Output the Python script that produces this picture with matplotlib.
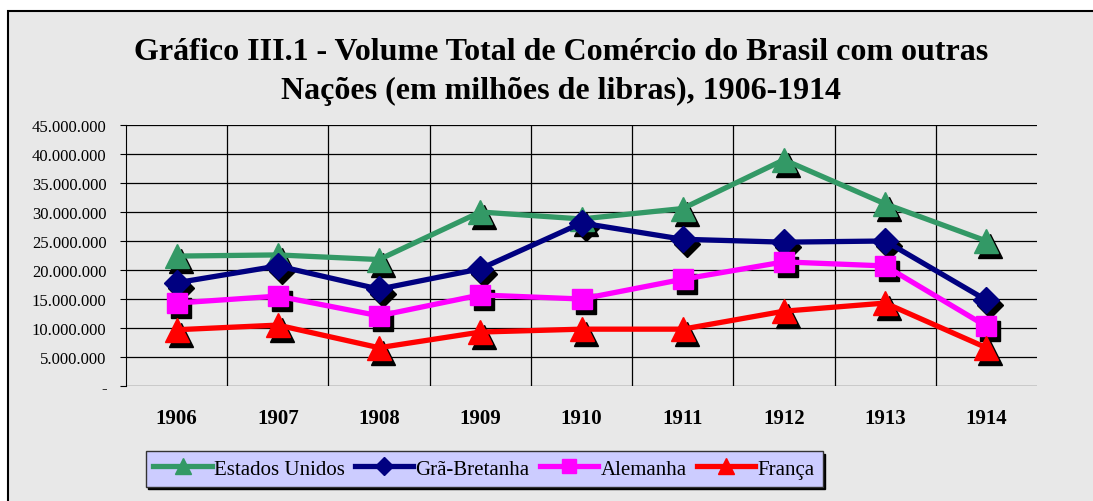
import matplotlib.pyplot as plt
from matplotlib.transforms import offset_copy
from matplotlib.patches import Rectangle

# Data (values in libras)
years = ["1906", "1907", "1908", "1909", "1910", "1911", "1912", "1913", "1914"]
estados_unidos = [22.4e6, 22.6e6, 21.8e6, 30.0e6, 28.8e6, 30.6e6, 39.0e6, 31.4e6, 25.0e6]
gra_bretanha = [17.8e6, 20.7e6, 16.7e6, 20.2e6, 28.1e6, 25.3e6, 24.8e6, 25.0e6, 14.8e6]
alemanha = [14.3e6, 15.5e6, 12.1e6, 15.7e6, 15.0e6, 18.4e6, 21.4e6, 20.7e6, 10.3e6]
franca = [9.7e6, 10.5e6, 6.6e6, 9.3e6, 9.8e6, 9.8e6, 12.9e6, 14.3e6, 6.6e6]

series = [
    ("Estados Unidos", estados_unidos, "#339966", "^", 17),
    ("Grã-Bretanha", gra_bretanha, "#000080", "D", 13),
    ("Alemanha", alemanha, "#ff00ff", "s", 15),
    ("França", franca, "#ff0000", "^", 17),
]

plt.rcParams['font.family'] = ['Liberation Serif', 'DejaVu Serif']

bg = "#e8e8e8"
fig = plt.figure(figsize=(10.93, 5.02), dpi=100, facecolor="white")

# outer chart frame (runs off the right/bottom edge)
fig.patches.append(Rectangle((8 / 1093, -0.05), 1.1, 1 - 12 / 502 + 0.05,
                             transform=fig.transFigure, facecolor=bg,
                             edgecolor="black", linewidth=1.5, zorder=-5))

ax = fig.add_axes([126 / 1093, 115 / 502, 911 / 1093, 261 / 502])
ax.set_zorder(2)
ax.set_facecolor("none")

x = list(range(len(years)))
for name, vals, color, marker, ms in series:
    shadow = offset_copy(ax.transData, fig=fig, x=4, y=-5, units="dots")
    ax.plot(x, vals, linestyle="none", marker=marker, markersize=ms,
            color="black", transform=shadow, zorder=3)
    ax.plot(x, vals, color=color, linewidth=3.8, marker=marker,
            markersize=ms, label=name, zorder=4)

ax.set_xlim(-0.5, len(years) - 0.5)
ax.set_ylim(0, 45e6)
ax.set_yticks(range(0, 45000001, 5000000))
ax.set_yticklabels(["-"] + [f"{v:,}".replace(",", ".") for v in range(5000000, 45000001, 5000000)],
                   fontsize=12)
ax.set_xticks(x)
ax.set_xticklabels(years, fontsize=15, fontweight="bold")
ax.set_xticks([i + 0.5 for i in x[:-1]], minor=True)
ax.tick_params(axis="x", which="major", length=0, pad=16)
ax.tick_params(axis="x", which="minor", length=0)
ax.tick_params(axis="y", length=4, width=0.8, pad=10)
ax.grid(axis="y", color="black", linewidth=0.9)
ax.grid(axis="x", which="minor", color="black", linewidth=0.9)
ax.set_axisbelow(True)
for s in ["top", "right", "bottom"]:
    ax.spines[s].set_visible(False)
ax.spines["left"].set_color("black")

fig.text(0.513, 1 - 72 / 502, "Gráfico III.1 - Volume Total de Comércio do Brasil com outras\n"
         "Nações (em milhões de libras), 1906-1914",
         ha="center", va="center", fontsize=23, fontweight="bold", linespacing=1.45)

leg = fig.legend(loc="center", bbox_to_anchor=(484 / 1093, 1 - 470 / 502), ncol=4,
                 fontsize=15, frameon=True, fancybox=False, facecolor="#ccccff",
                 edgecolor="#333333", framealpha=1, handlelength=2.8,
                 handletextpad=0.1, columnspacing=0.5, borderpad=0.38,
                 shadow={"color": "black", "alpha": 1}, markerscale=0.7)

fig.savefig("out.png", dpi=100, facecolor=fig.get_facecolor())
